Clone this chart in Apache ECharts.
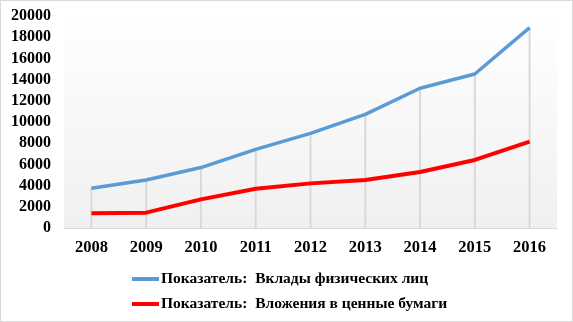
<!DOCTYPE html>
<html>
<head>
<meta charset="utf-8">
<script src="https://cdn.jsdelivr.net/npm/echarts@6/dist/echarts.min.js"></script>
<style>
  html, body { margin: 0; padding: 0; background: #fff; }
  #chart { width: 571px; height: 320px; border: 1px solid #d9d9d9; }
</style>
</head>
<body>
<div id="chart"></div>
<script>
    var years = ['2008', '2009', '2010', '2011', '2012', '2013', '2014', '2015', '2016'];
    var deposits = [3750, 4530, 5700, 7420, 8930, 10720, 13180, 14530, 18900];
    var securities = [1380, 1450, 2700, 3710, 4210, 4530, 5280, 6420, 8140];
    var depositsName = 'Показатель:  Вклады физических лиц';
    var securitiesName = 'Показатель:  Вложения в ценные бумаги';

    var font = '"Liberation Serif", "Times New Roman", serif';
    var dom = echarts.init(document.getElementById('chart'));

    var option = {
        animation: false,
        backgroundColor: '#fff',
        grid: {
            left: 63,
            right: 15,
            top: 15,
            bottom: 93,
            show: true,
            borderWidth: 0,
            backgroundColor: new echarts.graphic.LinearGradient(0, 0, 0, 1, [
                {offset: 0, color: '#ffffff'},
                {offset: 1, color: '#f0f0f0'}
            ])
        },
        legend: {
            data: [depositsName, securitiesName],
            orient: 'vertical',
            left: 126,
            top: 265,
            itemWidth: 27,
            itemHeight: 4,
            itemGap: 9,
            icon: 'rect',
            textStyle: {
                fontFamily: font,
                fontWeight: 'bold',
                fontSize: 15.5,
                color: '#000',
                padding: [0, 0, 0, -3]
            }
        },
        xAxis: {
            type: 'category',
            data: years,
            boundaryGap: true,
            axisLine: {lineStyle: {color: '#d9d9d9', width: 1}},
            axisTick: {show: false},
            axisLabel: {
                fontFamily: font,
                fontWeight: 'bold',
                fontSize: 16.5,
                color: '#000',
                margin: 11
            }
        },
        yAxis: {
            type: 'value',
            min: 0,
            max: 20000,
            interval: 2000,
            axisLine: {show: false},
            axisTick: {show: false},
            splitLine: {show: false},
            axisLabel: {
                fontFamily: font,
                fontWeight: 'bold',
                fontSize: 16,
                color: '#000',
                margin: 13,
                formatter: function (v) { return String(v); }
            }
        },
        series: [{
            // drop lines from the top series down to the axis
            type: 'bar',
            data: deposits,
            barWidth: 2,
            silent: true,
            itemStyle: {color: '#d9d9d9'},
            z: 1
        }, {
            name: depositsName,
            type: 'line',
            data: deposits,
            symbol: 'none',
            lineStyle: {color: '#5b9bd5', width: 3.5},
            itemStyle: {color: '#5b9bd5'},
            z: 3
        }, {
            name: securitiesName,
            type: 'line',
            data: securities,
            symbol: 'none',
            lineStyle: {color: '#ff0000', width: 4},
            itemStyle: {color: '#ff0000'},
            z: 3
        }]
    };
    dom.setOption(option);
</script>
</body>
</html>
